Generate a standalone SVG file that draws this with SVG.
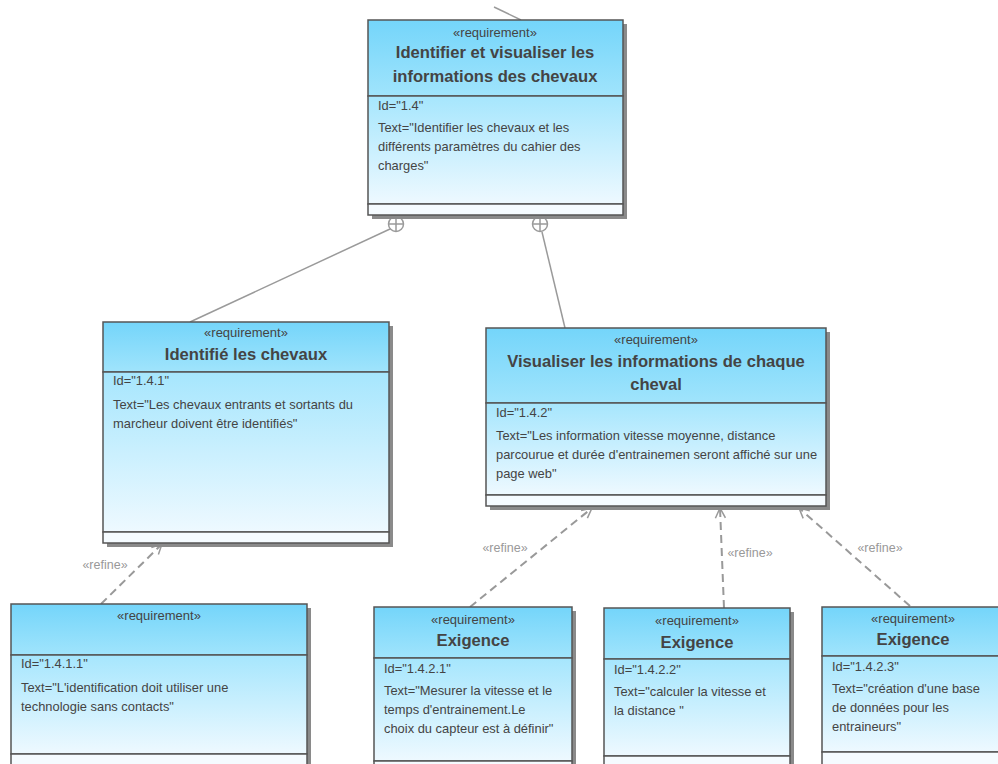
<svg xmlns="http://www.w3.org/2000/svg" width="998" height="764" viewBox="0 0 998 764">
<defs>
<linearGradient id="hdr" x1="0" y1="0" x2="0" y2="1">
<stop offset="0" stop-color="#74d5fa"/>
<stop offset="1" stop-color="#a0e4fc"/>
</linearGradient>
<linearGradient id="body" x1="0" y1="0" x2="0" y2="1">
<stop offset="0" stop-color="#a6e6fd"/>
<stop offset="1" stop-color="#eef9ff"/>
</linearGradient>
<marker id="open" viewBox="0 0 12 12" refX="11" refY="6" markerWidth="12" markerHeight="12" markerUnits="userSpaceOnUse" orient="auto">
<path d="M1,1 L11,6 L1,11" fill="none" stroke="#999" stroke-width="1.5"/>
</marker>
<style>
.sh{fill:#8a8a8a}
.hd{fill:url(#hdr);stroke:#555;stroke-width:1.5}
.bd{fill:url(#body);stroke:#555;stroke-width:1.5}
.ft{fill:#f5fbff;stroke:#555;stroke-width:1.5}
text{font-family:"Liberation Sans",Arial,sans-serif;fill:#444}
.st{font-size:13px;text-anchor:middle}
.ti{font-size:16.6px;font-weight:bold;text-anchor:middle}
.tx{font-size:12.9px}
.lb{font-size:12.5px;fill:#999;text-anchor:middle}
.dep{stroke:#999;stroke-width:2;stroke-dasharray:8,5;fill:none}
.cmp{stroke:#9a9a9a;stroke-width:1.5;fill:none}
</style>
</defs>

<g id="connectors">
<line class="cmp" x1="494" y1="7" x2="521" y2="20"/>
<line class="cmp" x1="390" y1="229" x2="190" y2="322"/>
<line class="cmp" x1="542" y1="232" x2="565" y2="328"/>
<circle cx="396" cy="224" r="7.5" fill="#fff" stroke="#9a9a9a" stroke-width="1.5"/>
<path d="M388.5,224 H403.5 M396,216.5 V231.5" class="cmp"/>
<circle cx="540" cy="224" r="7.5" fill="#fff" stroke="#9a9a9a" stroke-width="1.5"/>
<path d="M532.5,224 H547.5 M540,216.5 V231.5" class="cmp"/>
<line class="dep" x1="101" y1="604" x2="162" y2="544" marker-end="url(#open)"/>
<text class="lb" x="105" y="569">«refine»</text>
<line class="dep" x1="470" y1="607" x2="592" y2="508" marker-end="url(#open)"/>
<text class="lb" x="505" y="552">«refine»</text>
<line class="dep" x1="724" y1="608" x2="720" y2="508" marker-end="url(#open)"/>
<text class="lb" x="750" y="557">«refine»</text>
<line class="dep" x1="910" y1="606" x2="799" y2="508" marker-end="url(#open)"/>
<text class="lb" x="880" y="552">«refine»</text>
</g>

<g id="n14">
<rect class="sh" x="372" y="24" width="255" height="195"/>
<rect class="hd" x="368" y="20" width="255" height="76"/>
<rect class="bd" x="368" y="96" width="255" height="108"/>
<rect class="ft" x="368" y="204" width="255" height="11"/>
<text class="st" x="495" y="37">«requirement»</text>
<text class="ti" x="495" y="58">Identifier et visualiser les</text>
<text class="ti" x="495" y="82">informations des chevaux</text>
<text class="tx" x="378" y="110">Id="1.4"</text>
<text class="tx" x="378" y="132">Text="Identifier les chevaux et les</text>
<text class="tx" x="378" y="151">différents paramètres du cahier des</text>
<text class="tx" x="378" y="170">charges"</text>
</g>

<g id="n141">
<rect class="sh" x="107" y="326" width="286" height="221"/>
<rect class="hd" x="103" y="322" width="286" height="50"/>
<rect class="bd" x="103" y="372" width="286" height="160"/>
<rect class="ft" x="103" y="532" width="286" height="11"/>
<text class="st" x="246" y="337">«requirement»</text>
<text class="ti" x="246" y="360">Identifié les chevaux</text>
<text class="tx" x="113" y="385">Id="1.4.1"</text>
<text class="tx" x="113" y="409">Text="Les chevaux entrants et sortants du</text>
<text class="tx" x="113" y="428">marcheur doivent être identifiés"</text>
</g>

<g id="n142">
<rect class="sh" x="490" y="332" width="340" height="178"/>
<rect class="hd" x="486" y="328" width="340" height="75"/>
<rect class="bd" x="486" y="403" width="340" height="92"/>
<rect class="ft" x="486" y="495" width="340" height="11"/>
<text class="st" x="656" y="344">«requirement»</text>
<text class="ti" x="656" y="367">Visualiser les informations de chaque</text>
<text class="ti" x="656" y="390">cheval</text>
<text class="tx" x="496" y="417">Id="1.4.2"</text>
<text class="tx" x="496" y="440">Text="Les information vitesse moyenne, distance</text>
<text class="tx" x="496" y="459">parcourue et durée d'entrainemen seront affiché sur une</text>
<text class="tx" x="496" y="478">page web"</text>
</g>

<g id="n1411">
<rect class="sh" x="15" y="608" width="296" height="170"/>
<rect class="hd" x="11" y="604" width="296" height="51"/>
<rect class="bd" x="11" y="655" width="296" height="99"/>
<rect class="ft" x="11" y="754" width="296" height="20"/>
<text class="st" x="159" y="620">«requirement»</text>
<text class="tx" x="21" y="668">Id="1.4.1.1"</text>
<text class="tx" x="21" y="692">Text="L'identification doit utiliser une</text>
<text class="tx" x="21" y="711">technologie sans contacts"</text>
</g>

<g id="n1421">
<rect class="sh" x="378" y="611" width="198" height="170"/>
<rect class="hd" x="374" y="607" width="198" height="51"/>
<rect class="bd" x="374" y="658" width="198" height="103"/>
<rect class="ft" x="374" y="761" width="198" height="20"/>
<text class="st" x="473" y="624">«requirement»</text>
<text class="ti" x="473" y="646">Exigence</text>
<text class="tx" x="384" y="673">Id="1.4.2.1"</text>
<text class="tx" x="384" y="695">Text="Mesurer la vitesse et le</text>
<text class="tx" x="384" y="714">temps d'entrainement.Le</text>
<text class="tx" x="384" y="733">choix du capteur est à définir"</text>
</g>

<g id="n1422">
<rect class="sh" x="608" y="612" width="186" height="170"/>
<rect class="hd" x="604" y="608" width="186" height="51"/>
<rect class="bd" x="604" y="659" width="186" height="97"/>
<rect class="ft" x="604" y="756" width="186" height="20"/>
<text class="st" x="697" y="625">«requirement»</text>
<text class="ti" x="697" y="648">Exigence</text>
<text class="tx" x="614" y="674">Id="1.4.2.2"</text>
<text class="tx" x="614" y="696">Text="calculer la vitesse et</text>
<text class="tx" x="614" y="715">la distance "</text>
</g>

<g id="n1423">
<rect class="sh" x="826" y="611" width="182" height="170"/>
<rect class="hd" x="822" y="607" width="182" height="49"/>
<rect class="bd" x="822" y="656" width="182" height="96"/>
<rect class="ft" x="822" y="752" width="182" height="20"/>
<text class="st" x="913" y="623">«requirement»</text>
<text class="ti" x="913" y="645">Exigence</text>
<text class="tx" x="832" y="671">Id="1.4.2.3"</text>
<text class="tx" x="832" y="693">Text="création d'une base</text>
<text class="tx" x="832" y="712">de données pour les</text>
<text class="tx" x="832" y="731">entraineurs"</text>
</g>
</svg>
